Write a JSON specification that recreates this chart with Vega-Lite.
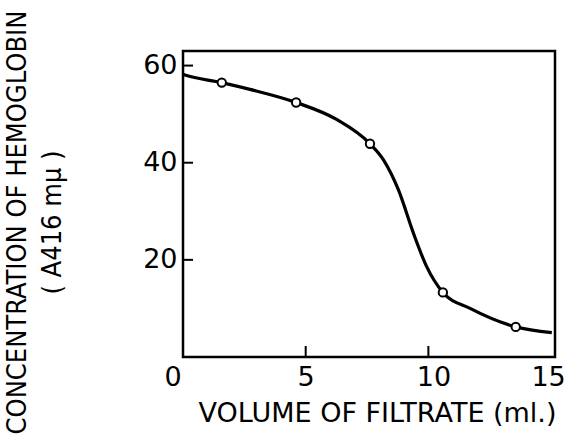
{
  "$schema": "https://vega.github.io/schema/vega-lite/v6.json",
  "width": 372,
  "height": 306,
  "autosize": "none",
  "padding": {"left": 183, "top": 51, "right": 11, "bottom": 82},
  "background": "white",
  "config": {
    "view": {"stroke": "black", "strokeWidth": 2.5},
    "axis": {"grid": false, "domain": false, "ticks": false, "labelColor": "black", "titleColor": "black", "labelFont": "DejaVu Sans", "titleFont": "DejaVu Sans", "titleFontWeight": "normal"}
  },
  "datasets": {
    "curve": [
      {"v": 0.0, "c": 58.2},
      {"v": 0.08, "c": 58.06},
      {"v": 1.58, "c": 56.5},
      {"v": 2.73, "c": 55.1},
      {"v": 4.61, "c": 52.4},
      {"v": 6.26, "c": 48.9},
      {"v": 7.62, "c": 43.9},
      {"v": 8.17, "c": 40.6},
      {"v": 8.78, "c": 34.4},
      {"v": 9.39, "c": 25.5},
      {"v": 9.93, "c": 18.6},
      {"v": 10.59, "c": 13.3},
      {"v": 11.7, "c": 10.0},
      {"v": 13.56, "c": 6.2},
      {"v": 15.03, "c": 5.0}
    ],
    "points": [
      {"v": 1.58, "c": 56.5},
      {"v": 4.61, "c": 52.4},
      {"v": 7.62, "c": 43.9},
      {"v": 10.59, "c": 13.3},
      {"v": 13.56, "c": 6.2}
    ],
    "yticks": [
      {"z": 0, "t": 20},
      {"z": 0, "t": 40},
      {"z": 0, "t": 60}
    ],
    "xticks": [
      {"t": 5, "z": 0},
      {"t": 10, "z": 0}
    ]
  },
  "layer": [
    {
      "data": {"name": "curve"},
      "mark": {"type": "line", "color": "black", "strokeWidth": 3.2, "interpolate": "monotone", "clip": true},
      "encoding": {
        "x": {
          "field": "v", "type": "quantitative",
          "scale": {"domain": [0, 15.16], "nice": false, "zero": false},
          "axis": {
            "values": [0, 5, 10, 15],
            "labelFontSize": 27, "labelPadding": 7,
            "labelOffset": {"expr": "datum.value === 0 ? -19 : (datum.value === 10 ? 5 : (datum.value === 15 ? -3 : 0))"},
            "title": "VOLUME OF FILTRATE (ml.)",
            "titleFontSize": 27,
            "titleBaseline": "alphabetic",
            "titleAnchor": "middle",
            "titleX": 194, "titleY": 64
          }
        },
        "y": {
          "field": "c", "type": "quantitative",
          "scale": {"domain": [0, 63], "nice": false},
          "axis": {
            "values": [20, 40, 60],
            "labelFontSize": 27, "labelPadding": 6,
            "title": ["CONCENTRATION OF HEMOGLOBIN", "( A416 mμ )"],
            "titleFont": "DejaVu Sans Condensed, DejaVu Sans",
            "titleFontSize": 27,
            "titleLineHeight": 35,
            "titleAngle": -90,
            "titleBaseline": "bottom",
            "titleAlign": "center",
            "titleX": -152, "titleY": 171
          }
        }
      }
    },
    {
      "data": {"name": "yticks"},
      "mark": {"type": "tick", "orient": "horizontal", "color": "black", "thickness": 2, "size": 20, "clip": true, "opacity": 1},
      "encoding": {
        "x": {"field": "z", "type": "quantitative"},
        "y": {"field": "t", "type": "quantitative"}
      }
    },
    {
      "data": {"name": "xticks"},
      "mark": {"type": "tick", "orient": "vertical", "color": "black", "thickness": 2, "size": 22, "clip": true, "opacity": 1},
      "encoding": {
        "x": {"field": "t", "type": "quantitative"},
        "y": {"field": "z", "type": "quantitative"}
      }
    },
    {
      "data": {"name": "points"},
      "mark": {"type": "point", "shape": "circle", "filled": false, "fill": "white", "stroke": "black", "strokeWidth": 2, "size": 70, "opacity": 1},
      "encoding": {
        "x": {"field": "v", "type": "quantitative"},
        "y": {"field": "c", "type": "quantitative"}
      }
    }
  ]
}
